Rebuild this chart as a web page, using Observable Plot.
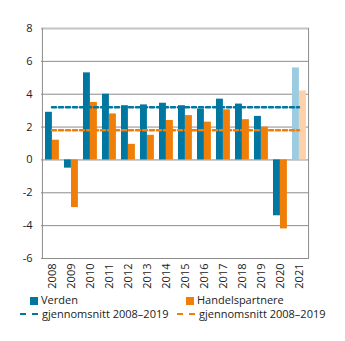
<!DOCTYPE html>
<html><head><meta charset="utf-8">
<script src="https://cdn.jsdelivr.net/npm/d3@7"></script>
<script src="https://cdn.jsdelivr.net/npm/@observablehq/plot@0.6"></script>
<style>
body{margin:0;background:#fff;font-family:"Open Sans",sans-serif;}
#wrap{position:relative;width:345px;height:341px;}
.leg{position:absolute;font-size:11px;color:#222;white-space:nowrap;line-height:12px;height:12px;}
.sw{display:inline-block;width:8px;height:8px;vertical-align:-1px;margin-right:3px;}
.dash{display:inline-block;width:18px;height:0;border-top:2.5px dashed;vertical-align:3px;margin-right:4px;}
</style></head><body>
<div id="wrap"></div>
<script>
const years = ["2008","2009","2010","2011","2012","2013","2014","2015","2016","2017","2018","2019","2020","2021"];
const verden = [2.9,-0.5,5.3,4.0,3.3,3.35,3.45,3.3,3.1,3.7,3.4,2.65,-3.4,5.6];
const handel = [1.2,-2.9,3.5,2.8,0.95,1.5,2.4,2.7,2.3,3.05,2.45,2.0,-4.2,4.2];
const avgVerden = 3.2;
const avgHandel = 1.8;
const yTicks = [-6,-4,-2,0,2,4,6,8];

const blue = "#0077a0", orange = "#f07f0a", lblue = "#9dcbe2", lorange = "#fdd1aa";
const dv = years.map((y,i)=>({year:y, v:verden[i], c: y==="2021"?lblue:blue}));
const dh = years.map((y,i)=>({year:y, v:handel[i], c: y==="2021"?lorange:orange}));
const avgV = [years[0], years[years.length-1]].map(y=>({year:y, v:avgVerden}));
const avgH = [years[0], years[years.length-1]].map(y=>({year:y, v:avgHandel}));

const plot = Plot.plot({
  width:345, height:298,
  marginTop:28, marginBottom:40, marginLeft:41, marginRight:36,
  style:{fontFamily:"Open Sans, sans-serif", fontSize:"11px", color:"#222"},
  x:{type:"band", domain:years, padding:0, label:null},
  y:{domain:[-6,8], label:null},
  marks:[
    Plot.ruleY(yTicks.filter(t=>t!==8), {stroke:"#8c8c8c", strokeWidth:1}),
    Plot.ruleY([8], {stroke:"#c4c4c4", strokeWidth:2}),
    Plot.ruleX([years[0]], {stroke:"#8c8c8c", y1:-6, y2:8, dx:-9.57}),
    Plot.ruleX([years[years.length-1]], {stroke:"#8c8c8c", y1:-6, y2:8, dx:9.57}),
    Plot.barY(dv, {x:"year", y:"v", fill:"c", insetLeft:3, insetRight:9.1}),
    Plot.barY(dh, {x:"year", y:"v", fill:"c", insetLeft:10, insetRight:2.1}),
    Plot.lineY(avgV, {x:"year", y:"v", stroke:blue, strokeWidth:2.5, strokeDasharray:"4,3"}),
    Plot.lineY(avgH, {x:"year", y:"v", stroke:orange, strokeWidth:2.5, strokeDasharray:"4,3"}),
    Plot.axisY({ticks:yTicks, tickSize:0, tickPadding:9, tickFormat:d=>d<0?"-"+Math.abs(d):String(d)}),
    Plot.axisX({tickSize:0, tickRotate:-90, tickPadding:5})
  ]
});
const wrap = document.getElementById("wrap");
wrap.appendChild(plot);
const legend = [
  {html:`<span class="sw" style="background:${blue}"></span>Verden`, x:30, y:294},
  {html:`<span class="sw" style="background:${orange}"></span>Handelspartnere`, x:186, y:294},
  {html:`<span class="dash" style="border-color:${blue}"></span>gjennomsnitt 2008–2019`, x:20, y:308},
  {html:`<span class="dash" style="border-color:${orange}"></span>gjennomsnitt 2008–2019`, x:177, y:308}
];
for (const l of legend){
  const d=document.createElement("div"); d.className="leg"; d.style.left=l.x+"px"; d.style.top=l.y+"px"; d.innerHTML=l.html; wrap.appendChild(d);
}
</script></body></html>
